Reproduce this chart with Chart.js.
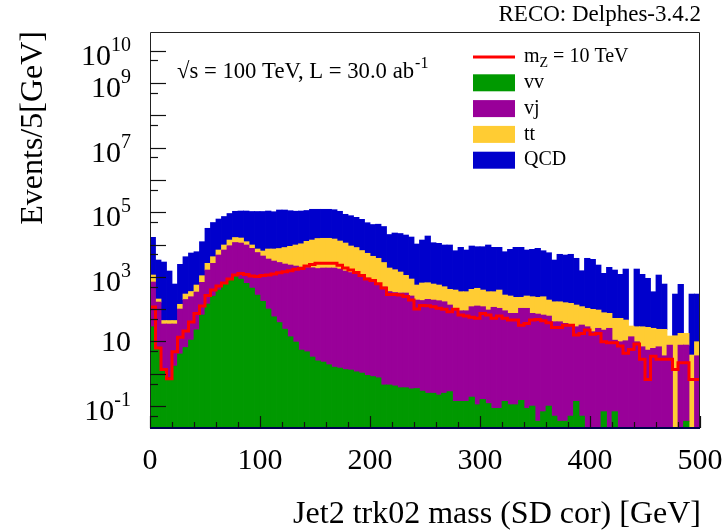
<!DOCTYPE html>
<html>
<head>
<meta charset="utf-8">
<script src="https://cdn.jsdelivr.net/npm/chart.js@4.4.1/dist/chart.umd.min.js"></script>
<style>
html,body{margin:0;padding:0;background:#fff;}
#wrap{width:728px;height:531px;position:relative;}
</style>
</head>
<body>
<div id="wrap"><canvas id="c" width="728" height="531"></canvas></div>
<script>
// ---- binning (5 GeV bins from 0 to 500) ----
const binLowEdges = Array.from({length: 100}, (_, i) => i * 5);
const binCenters = binLowEdges.map(e => e + 2.5);

// ---- series values (events per bin) ----
const vv = [28.5,6.7,1.2,0.76,1.73,4.1,6.5,11,23,66,
 144,255,390,621,855,1021,855,629,450,273,
 174,101,58,38.5,24,14,9.6,5.4,4.8,3.3,
 2.5,2.3,1.9,1.6,1.5,1.35,1.3,1.15,1.05,0.89,
 0.82,0.75,0.45,0.45,0.42,0.37,0.37,0.34,0.35,0.29,
 0.25,0.25,0.22,0.25,0.28,0.14,0.14,0.14,0.19,0.11,
 0.16,0.12,0.085,0.085,0.14,0.11,0.11,0.15,0.085,0.1,
 0.034,0.067,0.1,0.049,0.034,0.034,0.049,0.14,0.049,0,
 0,0,0.067,0,0.067,0,0,0,0,0,
 0,0,0,0,0,0,0,0.034,0,0];
const vj = [662,159,33.4,33.8,32.9,96.6,192,231,315,610,
 1481,2363,4340,6140,8325,10510,10265,9030,7170,5377,
 4231,3455,3025,2735,2466,2304,2148,2006,1936,1911,
 1805,1870,1870,1870,1740,1512,1357,1221,1058,917,
 767,620,482,350,326,315,315,255,191,185,
 201,191,182,169,134,98.5,89,89,119,125,
 119,94,114,106,89,74,74,106,106,74,
 70.5,65.6,61,40.7,40.7,36.3,32.2,28.4,32.2,28.5,
 20,25.5,22.4,25.5,10.9,9.8,10.5,14,9.8,6.85,
 5.4,6.1,6.85,3.6,7.7,0,7.7,7.7,0,3.6];
const tt = [447,40,9.8,9.8,9.8,40.3,95,109,219,406,
 993,1572,2030,2900,4590,4950,4770,2560,2040,1610,
 1890,3704,4177,4743,5585,6472,7502,8500,10620,11856,
 13543,13690,13690,12930,11090,9607,7632,6853,5457,4427,
 3547,3120,2290,1521,1334,1094,797,600,366,458,
 455,407,375,325,276,291,257,257,291,316,
 271,252,232,284,184,181,158,126,149,168,
 161,176,130,128,128,122,119,105.5,87,77.5,
 78.6,68.3,54.9,48.6,40.9,42.1,35.5,16,18.7,21.6,
 21.9,19.4,16.9,20.1,7.0,15,10.1,10.1,3.8,6.2];
const qcd = [15560,3105,2827,1469,554,2297,3897,5107,5427,11140,
 29150,43800,54740,63940,77430,90200,93000,96700,95540,97940,
 98900,101640,96240,109500,108900,102500,97740,98390,100440,109230,
 107650,107440,107440,104700,93870,74980,69010,61425,53740,41955,
 37285,38760,33290,18530,21040,20490,18570,16205,9803,13127,
 17674,10770,10333,9166,9250,6037,7844,6414,8580,8109,
 8160,9314,7844,7800,5711,6845,7958,7958,6505,6858,
 7388,6185,5381,3142,4808,4572,4826,3607,1426,3635,
 3384,2224,1206,1894,1573,1143,1696,0,1714,1167,
 872,320,1113,574,0,278,568,0,289,283];
const signalMZ10 = [116,6.3,1.35,0.70,4.8,13.5,21,40,74,126,
 264,390,519,652,867,1137,1283,1178,1074,1035,
 1112,1137,1222,1340,1439,1545,1707,1833,2158,2404,
 2618,2618,2618,2618,2270,1872,1625,1358,1097,867,
 768,611,450,287,287,273,249,191,101,129,
 127,119,106,99,83,99,66,61,56,52,
 74,66,52,61,52,46,46,32,36,46,
 48,44,38,27,27,32,32,15.8,17.8,22.5,
 16.9,17.8,9.8,9.1,9.1,7.2,4.3,5.7,8.3,2.8,
 0.67,3.5,2.8,2.8,2.8,1.37,2.2,2.2,0.67,0.67];

// ---- labels & ticks ----
const seriesNames = ['vv','vj','tt','QCD'];
const seriesColors = ['#009900','#990099','#ffcc33','#0000cc'];
const signalColor = '#ff0000';
const xMajorTicks = [0,100,200,300,400,500];
const xMinorTicks = [20,40,60,80,120,140,160,180,220,240,260,280,320,340,360,380,420,440,460,480];
const yMajorTicks = [0.1,1,10,100,1e3,1e4,1e5,1e6,1e7,1e8,1e9,1e10];
const yMinorTicks = [0.05,0.5,5,50,500,5e3,5e4,5e5,5e6,5e7,5e8,5e9];
const yLabelValues = [1e10,1e9,1e7,1e5,1e3,10,0.1];
const yLabelExps = ['10','9','7','5','3','','-1'];
const xTitle = 'Jet2 trk02 mass (SD cor) [GeV]';
const yTitle = 'Events/5[GeV]';

const SERIF = '"Liberation Serif", "Times New Roman", serif';

const stackData = [vv, vj, tt, qcd];
const barDatasets = stackData.map((arr, k) => ({
  type: 'bar',
  label: seriesNames[k],
  data: arr.map((v, i) => ({x: binCenters[i], y: v})),
  backgroundColor: seriesColors[k],
  borderWidth: 0,
  barPercentage: 1,
  categoryPercentage: 1,
  inflateAmount: 0.4,
  order: 1
}));
const signalPoints = signalMZ10.map((v, i) => ({x: binLowEdges[i], y: v}));
signalPoints.push({x: 500, y: signalMZ10[signalMZ10.length - 1]});

const rootStyle = {
  id: 'rootStyle',
  afterDraw(chart) {
    const {ctx, chartArea: a, scales: {x, y}} = chart;
    ctx.save();
    // frame
    ctx.lineWidth = 1;
    ctx.strokeStyle = '#222';
    ctx.beginPath();
    ctx.moveTo(a.left + 0.5, a.bottom);
    ctx.lineTo(a.left + 0.5, a.top + 0.5);
    ctx.lineTo(a.right - 0.5, a.top + 0.5);
    ctx.lineTo(a.right - 0.5, a.bottom);
    ctx.stroke();
    ctx.strokeStyle = '#00004d';
    ctx.lineWidth = 2;
    ctx.beginPath();
    ctx.moveTo(a.left, a.bottom);
    ctx.lineTo(a.right, a.bottom);
    ctx.stroke();
    // y ticks
    ctx.strokeStyle = '#111';
    ctx.lineWidth = 1.2;
    const tick = (vals, len) => vals.forEach(v => {
      const p = Math.round(y.getPixelForValue(v)) + 0.5;
      if (p < a.top || p > a.bottom) return;
      ctx.beginPath(); ctx.moveTo(a.left, p); ctx.lineTo(a.left + len, p); ctx.stroke();
    });
    tick(yMajorTicks, 16);
    tick(yMinorTicks, 8);
    const xtick = (vals, len) => vals.forEach(v => {
      const p = Math.round(x.getPixelForValue(v)) + 0.5;
      ctx.beginPath(); ctx.moveTo(p, a.bottom); ctx.lineTo(p, a.bottom - len); ctx.stroke();
    });
    xtick(xMajorTicks, 12);
    xtick(xMinorTicks, 6);

    ctx.fillStyle = '#000';
    // y labels
    ctx.textBaseline = 'alphabetic';
    ctx.textAlign = 'left';
    yLabelValues.forEach((v, i) => {
      const p = y.getPixelForValue(v);
      const exp = yLabelExps[i];
      ctx.font = '30px ' + SERIF;
      const wb = ctx.measureText('10').width;
      ctx.font = '20px ' + SERIF;
      const ws = exp ? ctx.measureText(exp).width : 0;
      const x0 = 131 - wb - ws;
      const base = p + (exp ? 14 : 10);
      ctx.font = '30px ' + SERIF;
      ctx.fillText('10', x0, base);
      if (exp) { ctx.font = '20px ' + SERIF; ctx.fillText(exp, x0 + wb, base - 14); }
    });
    // x labels
    ctx.textAlign = 'center';
    ctx.font = '30px ' + SERIF;
    xMajorTicks.forEach(v => ctx.fillText(String(v), x.getPixelForValue(v), 469));
    // x title
    ctx.textAlign = 'right';
    ctx.font = '32px ' + SERIF;
    ctx.fillText(xTitle, a.right + 1, 523);
    // y title
    ctx.save();
    ctx.translate(42, a.top - 1);
    ctx.rotate(-Math.PI / 2);
    ctx.textAlign = 'right';
    ctx.fillText(yTitle, 0, 0);
    ctx.restore();
    // top-right label
    ctx.font = '23px ' + SERIF;
    ctx.textAlign = 'right';
    ctx.fillText('RECO: Delphes-3.4.2', a.right + 1, 21);
    // sqrt(s) annotation
    ctx.textAlign = 'left';
    ctx.font = '22.7px ' + SERIF;
    const ann = '\u221As = 100 TeV, L = 30.0 ab';
    ctx.fillText(ann, 177, 78);
    const wa = ctx.measureText(ann).width;
    ctx.font = '16px ' + SERIF;
    ctx.fillText('-1', 177 + wa + 1, 68);
    // legend
    const ly0 = 57, ldy = 25.8, lx = 473, lw = 42, lh = 17, tx = 524;
    ctx.font = '20px ' + SERIF;
    ctx.textBaseline = 'middle';
    ctx.strokeStyle = signalColor;
    ctx.lineWidth = 3;
    ctx.beginPath(); ctx.moveTo(lx, ly0); ctx.lineTo(lx + lw, ly0); ctx.stroke();
    ctx.fillStyle = '#000';
    ctx.fillText('m', tx, ly0);
    const wm = ctx.measureText('m').width;
    ctx.font = '14px ' + SERIF;
    ctx.fillText('Z', tx + wm, ly0 + 6);
    const wz = ctx.measureText('Z').width;
    ctx.font = '20px ' + SERIF;
    ctx.fillText(' = 10 TeV', tx + wm + wz, ly0);
    seriesNames.forEach((n, k) => {
      const yy = ly0 + ldy * (k + 1);
      ctx.fillStyle = seriesColors[k];
      ctx.fillRect(lx, yy - lh / 2, lw, lh);
      ctx.fillStyle = '#000';
      ctx.fillText(n, tx, yy);
    });
    ctx.restore();
  }
};

new Chart(document.getElementById('c'), {
  data: {
    datasets: [
      {
        type: 'line',
        label: 'signal',
        data: signalPoints,
        borderColor: signalColor,
        borderWidth: 3,
        pointRadius: 0,
        stepped: 'before',
        fill: false,
        order: 0
      },
      ...barDatasets
    ]
  },
  options: {
    responsive: false,
    devicePixelRatio: 1,
    animation: false,
    layout: {padding: {left: 150, right: 28, top: 32, bottom: 103}},
    plugins: {legend: {display: false}, tooltip: {enabled: false}},
    scales: {
      x: {type: 'linear', min: 0, max: 500, offset: false, stacked: true, display: false},
      y: {type: 'logarithmic', min: 0.021, max: 3.8e10, stacked: true, display: false}
    }
  },
  plugins: [rootStyle]
});
</script>
</body>
</html>
